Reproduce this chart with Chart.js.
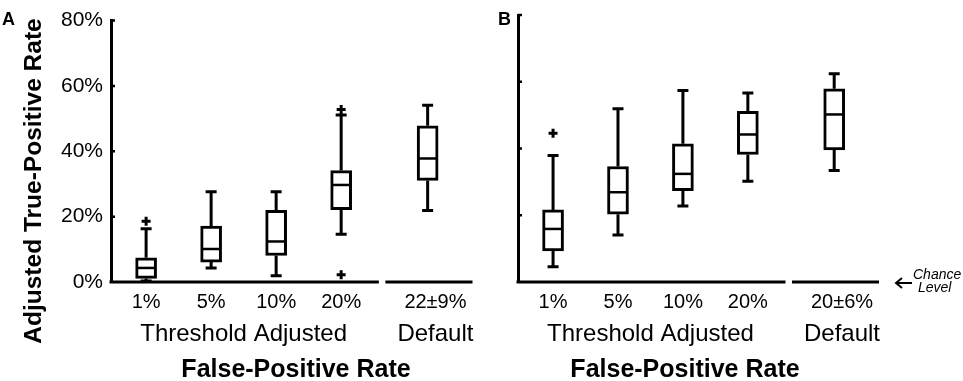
<!DOCTYPE html>
<html>
<head>
<meta charset="utf-8">
<script src="https://cdn.jsdelivr.net/npm/chart.js@4.4.0/dist/chart.umd.min.js"></script>
<style>
  html, body { margin: 0; padding: 0; background: #fff; }
  #wrap { position: relative; width: 963px; height: 381px; }
  .panel { position: absolute; top: 0; height: 381px; }
  #panelA { left: 0; width: 480px; }
  #panelB { left: 480px; width: 483px; }
</style>
</head>
<body>
<div id="wrap">
  <div class="panel" id="panelA"><canvas id="chartA"></canvas></div>
  <div class="panel" id="panelB"><canvas id="chartB"></canvas></div>
</div>
<script>
// Box plot data (percent)
const labelsA = ["1%", "5%", "10%", "20%", "22±9%"];
const labelsB = ["1%", "5%", "10%", "20%", "20±6%"];
const yTicks = [0, 20, 40, 60, 80];

// Panel A
const lowA    = [0.3, 4.3, 1.9, 14.6, 21.9];
const q1A     = [1.1, 6.1, 8.1, 22.1, 31.1];
const medianA = [4.3, 10.1, 12.4, 29.7, 37.8];
const q3A     = [7.4, 17.1, 21.9, 34.1, 47.8];
const highA   = [16.3, 27.6, 27.6, 51.1, 54.1];
const outliersA = [[0, 18.6], [3, 52.8], [3, 2.2]];

// Panel B
const lowB    = [4.6, 14.1, 22.8, 30.2, 33.4];
const q1B     = [9.3, 20.3, 27.4, 38.2, 39.6];
const medianB = [15.9, 26.9, 32.4, 44.2, 50.2];
const q3B     = [21.6, 34.6, 41.4, 51.1, 57.9];
const highB   = [37.9, 51.9, 57.4, 56.6, 62.4];
const outliersB = [[0, 44.6]];

// where each group sits on the x axis (threshold boxes, then default after a break)
const slots = [0.54, 1.54, 2.54, 3.54, 4.87];
const xMax = 5.56;
const axisBreak = [4.12, 4.22];

const FONT = "'Liberation Sans', Arial, Helvetica, sans-serif";

const boxParts = {
  id: "boxParts",
  afterDatasetsDraw(chart, args, o) {
    const { ctx, chartArea: a, scales: { x, y } } = chart;
    ctx.save();
    ctx.strokeStyle = "#000";
    ctx.fillStyle = "#000";
    ctx.lineCap = "butt";

    // whiskers, caps and medians
    o.slots.forEach((s, i) => {
      const cx = x.getPixelForValue(s);
      const lo = y.getPixelForValue(o.low[i]);
      const hi = y.getPixelForValue(o.high[i]);
      const b1 = y.getPixelForValue(o.q1[i]);
      const b3 = y.getPixelForValue(o.q3[i]);
      const m = y.getPixelForValue(o.median[i]);
      ctx.lineWidth = 3;
      ctx.beginPath();
      ctx.moveTo(cx, b3); ctx.lineTo(cx, hi);
      ctx.moveTo(cx - 5.5, hi); ctx.lineTo(cx + 5.5, hi);
      ctx.moveTo(cx, b1); ctx.lineTo(cx, lo);
      ctx.moveTo(cx - 5.5, lo); ctx.lineTo(cx + 5.5, lo);
      ctx.stroke();
      ctx.lineWidth = 2.5;
      ctx.beginPath();
      ctx.moveTo(cx - 9, m); ctx.lineTo(cx + 9, m);
      ctx.stroke();
    });

    // broken x axis line
    ctx.lineWidth = 3;
    ctx.beginPath();
    ctx.moveTo(a.left - 1.5, a.bottom);
    ctx.lineTo(x.getPixelForValue(o.axisBreak[0]), a.bottom);
    ctx.moveTo(x.getPixelForValue(o.axisBreak[1]), a.bottom);
    ctx.lineTo(x.getPixelForValue(xMax), a.bottom);
    ctx.stroke();

    // small inward tick marks on the y axis
    ctx.lineWidth = 2.5;
    ctx.beginPath();
    yTicks.slice(1).forEach(v => {
      const py = y.getPixelForValue(v);
      ctx.moveTo(a.left, py); ctx.lineTo(a.left + 4, py);
    });
    ctx.stroke();

    // group labels under the ticks
    ctx.textAlign = "center";
    ctx.textBaseline = "alphabetic";
    ctx.font = "24px " + FONT;
    const gx = (x.getPixelForValue(o.slots[0]) + x.getPixelForValue(o.slots[3])) / 2;
    ctx.fillText("Threshold Adjusted", gx, 341);
    ctx.fillText("Default", x.getPixelForValue(o.slots[4] + 0.12), 341);

    // x title
    ctx.font = "bold 25px " + FONT;
    ctx.fillText("False-Positive Rate", a.left + o.titleShift, 377);

    // panel letter
    ctx.textAlign = "left";
    ctx.font = "bold 18px " + FONT;
    ctx.fillText(o.letter, o.letterX, 25);

    if (o.yTitle) {
      ctx.save();
      ctx.translate(34, 181);
      ctx.rotate(-Math.PI / 2);
      ctx.textAlign = "center";
      ctx.textBaseline = "middle";
      ctx.font = "bold 24.5px " + FONT;
      ctx.fillText(o.yTitle, 0, 0);
      ctx.restore();
    }

    if (o.chance) {
      const ax = a.right + 17, ay = a.bottom + 1;
      ctx.lineWidth = 2;
      ctx.beginPath();
      ctx.moveTo(ax + 16, ay); ctx.lineTo(ax, ay);
      ctx.moveTo(ax + 6, ay - 5); ctx.lineTo(ax, ay); ctx.lineTo(ax + 6, ay + 5);
      ctx.stroke();
      ctx.font = "italic 14px " + FONT;
      ctx.textAlign = "left";
      ctx.fillText("Chance", ax + 17, ay - 4);
      ctx.fillText("Level", ax + 22, ay + 9);
    }
    ctx.restore();
  }
};

function makePanel(id, p) {
  const tickLabels = p.labels;
  return new Chart(document.getElementById(id), {
    data: {
      datasets: [
        {
          type: "bar",
          data: slots.map((s, i) => ({ x: s, y: [p.q1[i], p.q3[i]] })),
          backgroundColor: "#fff",
          borderColor: "#000",
          borderWidth: 3,
          borderSkipped: false,
          barThickness: 21,
        },
        {
          type: "scatter",
          data: p.outliers.map(([i, v]) => ({ x: slots[i], y: v })),
          pointStyle: "cross",
          radius: 4.5,
          borderWidth: 3,
          borderColor: "#000",
        },
      ],
    },
    options: {
      responsive: true,
      maintainAspectRatio: false,
      animation: false,
      layout: { padding: { top: 15, right: p.padRight, left: 0, bottom: 0 } },
      plugins: {
        legend: { display: false },
        tooltip: { enabled: false },
        boxParts: {
          slots: slots,
          low: p.low, q1: p.q1, median: p.median, q3: p.q3, high: p.high,
          axisBreak: axisBreak,
          titleShift: p.titleShift,
          letter: p.letter,
          letterX: p.letterX,
          yTitle: p.yTitle,
          chance: p.chance,
        },
      },
      scales: {
        x: {
          type: "linear",
          min: 0,
          max: xMax,
          offset: false,
          grid: { display: false, drawTicks: false, offset: false },
          border: { display: false },
          afterBuildTicks: (s) => {
            s.ticks = slots.map((v, i) => ({ value: i === 4 ? v + 0.12 : v }));
          },
          ticks: {
            autoSkip: false,
            maxRotation: 0,
            padding: 8,
            color: "#000",
            font: { family: FONT, size: 20 },
            callback: (v, i) => tickLabels[i],
          },
          afterFit: (s) => { s.height = 99; },
        },
        y: {
          min: 0,
          max: 80,
          grid: { display: false, drawTicks: false },
          border: { display: true, color: "#000", width: 3 },
          afterBuildTicks: (s) => { s.ticks = yTicks.map(v => ({ value: v })); },
          ticks: {
            display: p.showY,
            padding: 8,
            color: "#000",
            font: { family: FONT, size: 21 },
            callback: (v) => v + "%",
          },
          afterFit: (s) => { s.width = p.axisWidth; },
        },
      },
    },
    plugins: [boxParts],
  });
}

makePanel("chartA", {
  labels: labelsA, low: lowA, q1: q1A, median: medianA, q3: q3A, high: highA,
  outliers: outliersA, padRight: 7, axisWidth: 111, showY: true,
  titleShift: 185, letter: "A", letterX: 2, yTitle: "Adjusted True-Positive Rate", chance: false,
});

makePanel("chartB", {
  labels: labelsB, low: lowB, q1: q1B, median: medianB, q3: q3B, high: highB,
  outliers: outliersB, padRight: 84, axisWidth: 38, showY: false,
  titleShift: 167, letter: "B", letterX: 18, yTitle: null, chance: true,
});
</script>
</body>
</html>
